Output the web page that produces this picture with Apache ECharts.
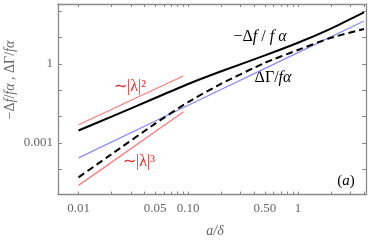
<!DOCTYPE html>
<html><head><meta charset="utf-8">
<script src="https://cdn.jsdelivr.net/npm/echarts@6/dist/echarts.min.js"></script>
<style>html,body{margin:0;padding:0;background:#fff}#c{width:374px;height:240px}</style>
</head><body><div id="c"></div>
<script>
// ---- data ----
const xSamples = [0.01, 0.02, 0.05, 0.1, 0.2, 0.5, 1, 2, 4];
const deltaF = [0.00296, 0.0100, 0.0510, 0.174, 0.528, 2.12, 6.40, 22.2, 90.8];
const deltaGamma = [4.94e-5, 3.75e-4, 0.00542, 0.0359, 0.178, 1.11, 3.41, 9.9, 21.4];
const blueX = [0.01, 0.1, 1, 4];
const blueY = [2.7e-4, 0.027, 2.7, 43];
const red2X = [0.01, 0.09];
const red2Y = [0.0049, 0.35];
const red3X = [0.01, 0.09];
const red3Y = [2.45e-5, 0.015];
const xTicks = [0.01,0.02,0.03,0.04,0.05,0.06,0.07,0.08,0.09,0.1,0.2,0.3,0.4,0.5,0.6,0.7,0.8,0.9,1,2,3,4];
const xTickLabels = [0.01, 0.05, 0.1, 0.5, 1];
const xTickText = ['0.01', '0.05', '0.10', '0.50', '1'];
const yTicks = [1e-5, 1e-4, 1e-3, 1e-2, 1e-1, 1, 10, 100];
const yTickLabels = [0.001, 1];
const yTickText = ['0.001', '1'];

const X_MIN = 0.0065, X_MAX = 4.17, Y_MIN = 1.1e-5, Y_MAX = 190;

function pair(xs, ys) { return xs.map((x, i) => [x, ys[i]]); }
function fmt(vals, texts) {
  return function (v) {
    for (let i = 0; i < vals.length; i++) {
      if (Math.abs(Math.log10(v) - Math.log10(vals[i])) < 1e-6) return texts[i];
    }
    return '';
  };
}
const frame = { lineStyle: { color: '#8a8a8a', width: 1.3 } };
const labelFont = { fontFamily: 'Liberation Serif', fontSize: 13, color: '#666' };

function xAxis(pos, showLabel) {
  return {
    type: 'log', logBase: 10, min: X_MIN, max: X_MAX, position: pos,
    axisLine: { show: true, onZero: false, ...frame },
    axisTick: { show: true, inside: true, length: 3, customValues: xTicks, lineStyle: { color: '#8a8a8a', width: 1 } },
    axisLabel: showLabel ? { show: true, margin: 8, customValues: xTickLabels, formatter: fmt(xTickLabels, xTickText), ...labelFont } : { show: false },
    splitLine: { show: false }, minorTick: { show: false }
  };
}
function yAxis(pos, showLabel) {
  return {
    type: 'log', logBase: 10, min: Y_MIN, max: Y_MAX, position: pos,
    axisLine: { show: true, onZero: false, ...frame },
    axisTick: { show: true, inside: true, length: 4, customValues: yTicks, lineStyle: { color: '#8a8a8a', width: 1 } },
    axisLabel: showLabel ? { show: true, margin: 5, customValues: yTickLabels, formatter: fmt(yTickLabels, yTickText), ...labelFont } : { show: false },
    splitLine: { show: false }, minorTick: { show: false }
  };
}

const chart = echarts.init(document.getElementById('c'), null, { renderer: 'canvas' });
const serif = 'Liberation Serif';
chart.setOption({
  animation: false,
  backgroundColor: '#fff',
  grid: { left: 58, right: 8, top: 4, bottom: 45.5, containLabel: false },
  xAxis: [xAxis('bottom', true), xAxis('top', false)],
  yAxis: [yAxis('left', true), yAxis('right', false)],
  series: [
    { type: 'line', name: 'red2', data: pair(red2X, red2Y), showSymbol: false, lineStyle: { color: '#ff7b7b', width: 1.3 } },
    { type: 'line', name: 'red3', data: pair(red3X, red3Y), showSymbol: false, lineStyle: { color: '#ff7b7b', width: 1.3 } },
    { type: 'line', name: 'blue', data: pair(blueX, blueY), showSymbol: false, lineStyle: { color: '#8a8aff', width: 1.3 } },
    { type: 'line', name: 'deltaGamma', data: pair(xSamples, deltaGamma), showSymbol: false, smooth: 0.2, lineStyle: { color: '#000', width: 2, type: [7, 4] } },
    { type: 'line', name: 'deltaF', data: pair(xSamples, deltaF), showSymbol: false, smooth: 0.2, lineStyle: { color: '#000', width: 2 } }
  ],
  graphic: [
    { type: 'text', x: 260, y: 37, style: { text: '{u|−Δ}{i|f}{u| / }{i|f α}', align: 'center', verticalAlign: 'middle',
        rich: { u: { fontFamily: serif, fontSize: 16, fill: '#000' }, i: { fontFamily: serif, fontStyle: 'italic', fontSize: 16, fill: '#000' } } } },
    { type: 'text', x: 273, y: 78, style: { text: '{u|ΔΓ/}{i|fα}', align: 'center', verticalAlign: 'middle',
        rich: { u: { fontFamily: serif, fontSize: 16, fill: '#000' }, i: { fontFamily: serif, fontStyle: 'italic', fontSize: 16, fill: '#000' } } } },
    { type: 'text', x: 130, y: 87, style: { text: '∼|λ|²', align: 'center', verticalAlign: 'middle', fontFamily: serif, fontSize: 16, fill: '#ee2a2a' } },
    { type: 'text', x: 139, y: 162, style: { text: '∼|λ|³', align: 'center', verticalAlign: 'middle', fontFamily: serif, fontSize: 16, fill: '#ee2a2a' } },
    { type: 'text', x: 346, y: 181, style: { text: '{u|(}{i|a}{u|)}', align: 'center', verticalAlign: 'middle',
        rich: { u: { fontFamily: serif, fontSize: 15, fill: '#000' }, i: { fontFamily: serif, fontStyle: 'italic', fontSize: 15, fill: '#000' } } } },
    { type: 'text', x: 215, y: 231, style: { text: 'a/δ', align: 'center', verticalAlign: 'middle', fontFamily: serif, fontStyle: 'italic', fontSize: 14, fill: '#666' } },
    { type: 'text', x: 10, y: 80, rotation: Math.PI / 2, style: { text: '{u|−Δ}{i|f}{u|/}{i|fα}{u| , ΔΓ/}{i|fα}', align: 'center', verticalAlign: 'middle',
        rich: { u: { fontFamily: serif, fontSize: 14, fill: '#666' }, i: { fontFamily: serif, fontStyle: 'italic', fontSize: 14, fill: '#666' } } } }
  ]
});
</script>
</body></html>
